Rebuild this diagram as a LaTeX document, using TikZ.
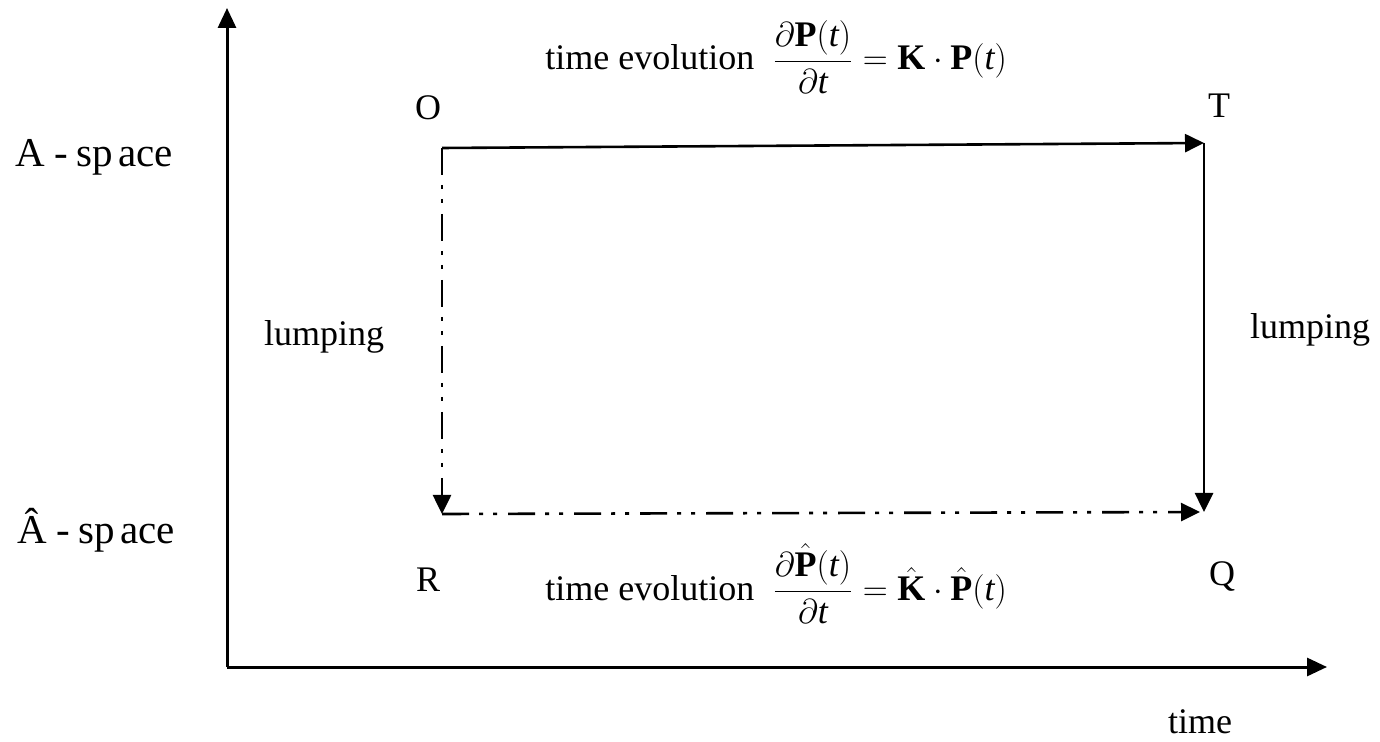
\documentclass[tikz,border=0pt]{standalone}
\usepackage{amsmath}
\usepackage{fontspec}
\setmainfont{Liberation Serif}
\usetikzlibrary{arrows.meta}
\begin{document}
\begin{tikzpicture}[x=0.5pt,y=-0.5pt,
  every node/.style={font=\fontsize{18}{21}\selectfont, inner sep=0pt},
  axis/.style={line width=1.5pt, -{Triangle[length=10pt,width=9pt]}},
  solidarrow/.style={line width=1.3pt, -{Triangle[length=9.5pt,width=9pt]}},
  dashdotdot/.style={line width=1.3pt, -{Triangle[length=9.5pt,width=9pt]},
    dash pattern=on 13.5pt off 5pt on 2pt off 5pt on 2pt off 5.5pt},
  spacelbl/.style={anchor=base west, font=\fontsize{20.5}{24}\selectfont},
  lbl/.style={anchor=center}]
\useasboundingbox (0,0) rectangle (1380,742);
% axes
\coordinate (origin) at (227,667);
\coordinate (ytip) at (227,8);
\coordinate (xtip) at (1327,667);
\draw[axis] (origin) -- (ytip);
\draw[axis] (origin) -- (xtip);
% corners
\coordinate (cO) at (442,148);
\coordinate (cT) at (1204,143);
\coordinate (cR) at (442,514);
\coordinate (cQ) at (1204,512);
\draw[solidarrow] (cO) -- (cT);
\draw[solidarrow] (cT) -- (cQ);
\draw[dashdotdot] (cO) -- (cR);
\draw[dashdotdot] (cR) -- ([xshift=-2pt]cQ);
% corner labels
\node[lbl] (lO) at (428,108) {O};
\node[lbl] (lT) at (1219,106) {T};
\node[lbl] (lR) at (428,580) {R};
\node[lbl] (lQ) at (1222,576) {Q};
% space labels
\node[spacelbl] (aspace) at (15,167) {A\hspace{5pt}-\hspace{4pt}sp\hspace{2.5pt}ace};
\node[spacelbl] (ahspace) at (17,543) {\^{A}\hspace{5pt}-\hspace{4pt}sp\hspace{2.5pt}ace};
% lumping labels
\node[lbl] (lumpL) at (324,337) {lumping};
\node[lbl] (lumpR) at (1310,330) {lumping};
% time label
\node[lbl] (timelbl) at (1200,722) {time};
% equations
\node[anchor=base west] (eqtop) at (545,70)
  {time evolution \ $\dfrac{\partial\textbf{P}(\textit{t})}{\partial\textit{t}}=\textbf{K}\cdot\textbf{P}(\textit{t})$};
\node[anchor=base west] (eqbot) at (545,600)
  {time evolution \ $\dfrac{\partial\hat{\textbf{P}}(\textit{t})}{\partial\textit{t}}=\hat{\textbf{K}}\cdot\hat{\textbf{P}}(\textit{t})$};
\end{tikzpicture}
\end{document}
